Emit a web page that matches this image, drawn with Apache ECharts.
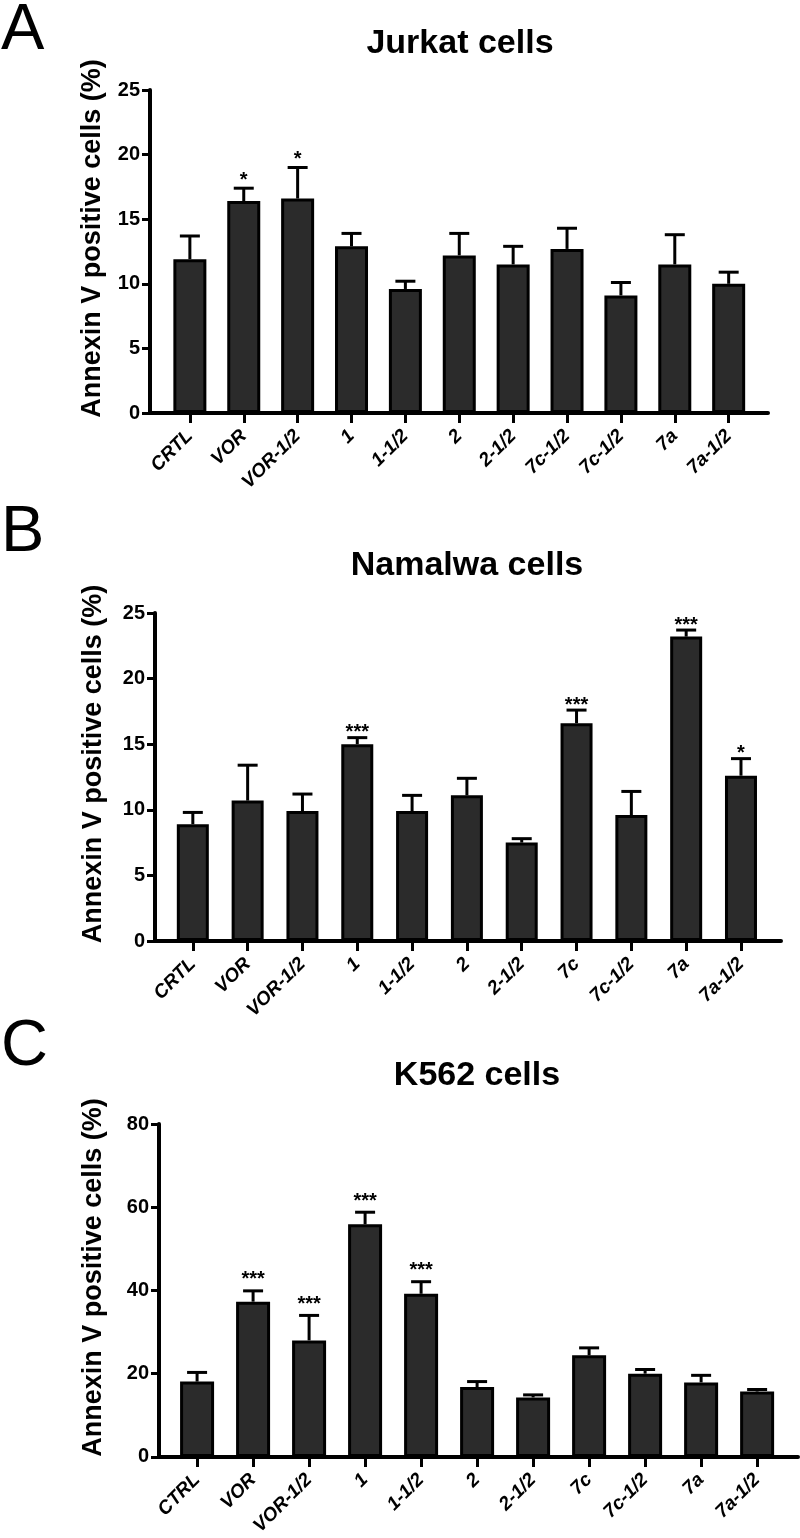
<!DOCTYPE html>
<html>
<head>
<meta charset="utf-8">
<script src="https://cdn.jsdelivr.net/npm/echarts@6/dist/echarts.min.js"></script>
<style>
  html, body { margin: 0; padding: 0; background: #fff; }
  #chart { width: 800px; height: 1538px; }
</style>
</head>
<body>
<div id="chart"></div>
<script>
// categories (panel A repeats "7c-1/2" as in the figure)
var jurkatCats  = ['CRTL', 'VOR', 'VOR-1/2', '1', '1-1/2', '2', '2-1/2', '7c-1/2', '7c-1/2', '7a', '7a-1/2'];
var namalwaCats = ['CRTL', 'VOR', 'VOR-1/2', '1', '1-1/2', '2', '2-1/2', '7c', '7c-1/2', '7a', '7a-1/2'];
var k562Cats    = ['CTRL', 'VOR', 'VOR-1/2', '1', '1-1/2', '2', '2-1/2', '7c', '7c-1/2', '7a', '7a-1/2'];

// mean % annexin V positive cells and error (upper bar only)
var jurkatMean = [11.9, 16.4, 16.6, 12.9, 9.6, 12.2, 11.5, 12.7, 9.1, 11.5, 10.0];
var jurkatErr  = [1.8, 1.0, 2.4, 1.0, 0.6, 1.7, 1.4, 1.6, 1.0, 2.3, 0.9];
var jurkatSig  = ['', '*', '*', '', '', '', '', '', '', '', ''];

var namalwaMean = [8.9, 10.7, 9.9, 15.0, 9.9, 11.1, 7.5, 16.6, 9.6, 23.2, 12.6];
var namalwaErr  = [0.9, 2.7, 1.3, 0.5, 1.2, 1.3, 0.3, 1.0, 1.8, 0.5, 1.3];
var namalwaSig  = ['', '', '', '***', '', '', '', '***', '', '***', '*'];

var k562Mean = [18.1, 37.3, 28.0, 55.9, 39.2, 16.8, 14.3, 24.4, 20.0, 17.9, 15.7];
var k562Err  = [2.2, 2.6, 6.0, 2.9, 2.9, 1.3, 0.6, 1.8, 1.0, 1.7, 0.5];
var k562Sig  = ['', '***', '***', '***', '***', '', '', '', '', '', ''];

var ARIAL = "'Liberation Sans', Arial, Helvetica, sans-serif";
var yName = 'Annexin V positive cells (%)';

var panels = [
    { cats: jurkatCats, mean: jurkatMean, err: jurkatErr, sig: jurkatSig, yMax: 25, yStep: 5,
      grid: { left: 150, right: 32, top: 90, height: 323 }, xMin: -0.74, barW: 33, gap: 14, nameGap: 44,
      title: 'Jurkat cells', tx: 460, ty: 44, letter: 'A', ly: 31 },
    { cats: namalwaCats, mean: namalwaMean, err: namalwaErr, sig: namalwaSig, yMax: 25, yStep: 5,
      grid: { left: 155, right: 19, top: 613, height: 328 }, xMin: -0.69, barW: 32, gap: 11, nameGap: 48,
      title: 'Namalwa cells', tx: 467, ty: 566, letter: 'B', ly: 533 },
    { cats: k562Cats, mean: k562Mean, err: k562Err, sig: k562Sig, yMax: 80, yStep: 20,
      grid: { left: 159, right: 2, top: 1124, height: 335 }, xMin: -0.68, barW: 34, gap: 17, nameGap: 52,
      title: 'K562 cells', tx: 477, ty: 1076, letter: 'C', ly: 1047 }
];

function errorBars(sig, gap) {
    return function (params, api) {
        var x = api.value(0), m = api.value(1), e = api.value(2);
        var base = api.coord([x, m]);
        var top = api.coord([x, m + e]);
        var kids = [
            { type: 'line', shape: { x1: base[0], y1: base[1], x2: top[0], y2: top[1] },
              style: { stroke: '#000', lineWidth: 3 } },
            { type: 'line', shape: { x1: top[0] - 10, y1: top[1], x2: top[0] + 10, y2: top[1] },
              style: { stroke: '#000', lineWidth: 3 } }
        ];
        var s = sig[params.dataIndex];
        if (s) {
            kids.push({ type: 'text', x: top[0], y: top[1] - gap + 6,
                style: { text: s, font: 'bold 20px ' + ARIAL, fill: '#000',
                         align: 'center', verticalAlign: 'middle',
                         textAlign: 'center', textVerticalAlign: 'middle' } });
        }
        return { type: 'group', children: kids };
    };
}

var grids = [], xAxes = [], yAxes = [], series = [], graphics = [];
panels.forEach(function (p, k) {
    var idx = p.cats.map(function (c, i) { return i; });
    grids.push(p.grid);
    xAxes.push({
        type: 'value', gridIndex: k, min: p.xMin, max: 10.73,
        splitLine: { show: false },
        axisLine: { show: true, onZero: false, lineStyle: { color: '#000', width: 4 } },
        axisTick: { show: true, customValues: idx, length: 10, lineStyle: { color: '#000', width: 3 } },
        axisLabel: {
            customValues: idx, rotate: 45, margin: 20,
            formatter: function (v) { return p.cats[Math.round(v)]; },
            fontFamily: ARIAL, fontWeight: 'bold', fontStyle: 'italic', fontSize: 19, color: '#000'
        }
    });
    yAxes.push({
        type: 'value', gridIndex: k, min: 0, max: p.yMax, interval: p.yStep,
        name: yName, nameLocation: 'middle', nameRotate: 90, nameGap: p.nameGap,
        nameTextStyle: { fontFamily: ARIAL, fontWeight: 'bold', fontSize: 27, color: '#000', padding: [0, 0, 0, 26] },
        splitLine: { show: false },
        axisLine: { show: true, onZero: false, lineStyle: { color: '#000', width: 4 } },
        axisTick: { show: true, length: 8, lineStyle: { color: '#000', width: 3 } },
        axisLabel: { margin: 10, fontFamily: ARIAL, fontWeight: 'bold', fontSize: 20, color: '#000' }
    });
    series.push({
        type: 'bar', xAxisIndex: k, yAxisIndex: k, barWidth: p.barW, z: 2,
        itemStyle: { color: '#2b2b2b', borderColor: '#000', borderWidth: 3 },
        data: p.mean.map(function (v, i) { return [i, v]; })
    });
    series.push({
        type: 'custom', xAxisIndex: k, yAxisIndex: k, z: 3,
        renderItem: errorBars(p.sig, p.gap),
        data: p.mean.map(function (v, i) { return [i, v, p.err[i]]; })
    });
    graphics.push({
        type: 'text', x: p.tx, y: p.ty,
        style: { text: p.title, font: 'bold 34px ' + ARIAL, fill: '#000',
                 align: 'center', verticalAlign: 'middle', textAlign: 'center', textVerticalAlign: 'middle' }
    });
    graphics.push({
        type: 'text', x: 1, y: p.ly,
        style: { text: p.letter, font: 'normal 65px ' + ARIAL, fill: '#000',
                 align: 'left', verticalAlign: 'middle', textAlign: 'left', textVerticalAlign: 'middle' }
    });
});

var chart = echarts.init(document.getElementById('chart'));
chart.setOption({
    animation: false,
    backgroundColor: '#fff',
    grid: grids,
    xAxis: xAxes,
    yAxis: yAxes,
    series: series,
    graphic: graphics
});
</script>
</body>
</html>
